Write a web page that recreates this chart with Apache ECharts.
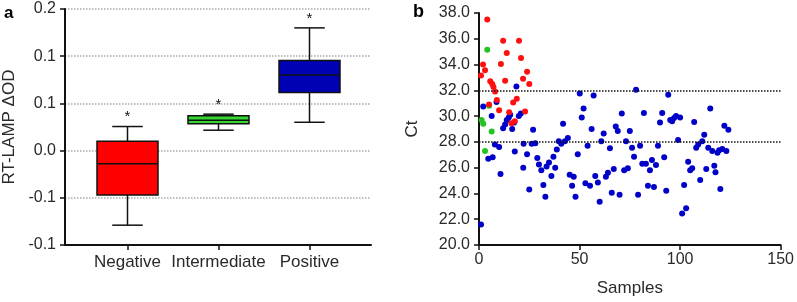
<!DOCTYPE html>
<html>
<head>
<meta charset="utf-8">
<script src="https://cdn.jsdelivr.net/npm/echarts@6/dist/echarts.min.js"></script>
<style>
  html, body { margin: 0; padding: 0; background: #fff; }
  #chart { width: 797px; height: 302px; }
</style>
</head>
<body>
<div id="chart"></div>
<script>
// panel a: box plot of RT-LAMP dOD per group
const categories = ['Negative', 'Intermediate', 'Positive'];
const boxLow = [-0.079, 0.0216, 0.030];
const boxQ1 = [-0.047, 0.0284, 0.0616];
const boxMedian = [-0.014, 0.0322, 0.080];
const boxQ3 = [0.010, 0.0369, 0.0955];
const boxHigh = [0.0255, 0.0386, 0.130];
const starValues = [0.0397, 0.0524, 0.1443];
// tick labels as printed in the figure (values -0.10 .. 0.15 step 0.05)
const yTickLabelsA = ['-0.1', '-0.1', '0.0', '0.1', '0.1', '0.2'];

// panel b: Ct against sample number
const redPoints = [
  [1, 33.15], [2, 34.0], [3, 33.55], [4.1, 37.5], [5, 30.9], [5.6, 32.7], [6.6, 32.5], [7.2, 32.25],
  [8, 31.9], [8.9, 31.25], [10, 30.45], [10.9, 34.05], [12, 35.85], [13, 32.75], [13.8, 34.9],
  [15, 30.3], [16.1, 29.45], [17, 31.05], [17.8, 29.6], [18.8, 31.35], [19.9, 35.85], [20.9, 34.5],
  [21.9, 32.9], [22.9, 30.35], [23.9, 33.45], [25, 32.5]
];
const greenPoints = [
  [1.3, 29.7], [2.1, 29.4], [3, 27.3], [4.1, 35.15], [5, 30.8], [6.3, 28.8]
];
const bluePoints = [
  [1, 21.6], [2.1, 30.75], [4.6, 26.7], [6.3, 30.0], [6.8, 26.8], [7.9, 27.8], [8.7, 31.1], [10, 27.6],
  [10.7, 25.5], [12, 29.05], [13, 29.35], [13.8, 29.7], [14.8, 29.9], [15.5, 30.1], [16.5, 29.0],
  [17.5, 29.5], [17.8, 27.25], [18.6, 32.3], [19.8, 30.0], [20.8, 30.2], [22, 26.0], [22.2, 27.85],
  [23.9, 27.05], [25, 24.3], [26.2, 27.85], [26.9, 28.95], [28, 27.9], [29, 26.75], [29.8, 26.25],
  [31, 25.8], [32, 24.65], [33, 23.75], [33.6, 26.1], [34.8, 26.4], [36, 25.35], [37, 26.85],
  [37.9, 26.0], [38.7, 27.4], [39.7, 28.05], [40.9, 27.85], [41.8, 29.4], [42.7, 28.05], [44.2, 28.3],
  [45.1, 25.45], [46.3, 24.6], [47.1, 25.3], [48, 23.75], [49.1, 27.05], [50.1, 31.75], [51.1, 29.9],
  [52, 30.6], [52.9, 24.8], [54, 27.7], [55.2, 24.6], [56, 29.0], [57, 31.6], [57.8, 25.35],
  [59.1, 24.85], [60, 23.35], [60.8, 28.05], [62, 28.65], [63.1, 25.3], [64.1, 25.6], [65.1, 27.5],
  [66, 24.05], [67, 25.9], [68, 29.2], [69, 28.85], [69.9, 23.9], [71, 30.2], [72.2, 25.8],
  [73.1, 28.05], [74, 25.95], [75, 28.85], [76.1, 27.55], [77.1, 26.85], [78.1, 32.05], [79.1, 23.9],
  [80.1, 27.7], [81.2, 26.3], [82, 30.25], [83, 26.3], [84, 24.6], [85, 25.8], [86, 26.6], [87, 24.5],
  [88, 26.2], [89, 27.7], [90, 29.5], [91.1, 30.25], [92.1, 26.8], [93.1, 24.2], [94.1, 31.65],
  [95.1, 29.7], [96, 29.6], [97, 29.85], [98, 30.0], [99, 28.15], [100, 29.9], [101, 22.45],
  [102, 24.65], [103, 22.85], [104, 26.45], [105, 25.8], [106, 25.95], [107, 29.55], [108, 27.55],
  [109, 27.8], [110, 25.05], [111, 28.05], [112, 28.55], [113, 25.9], [114, 27.55], [115, 30.6],
  [116, 27.3], [117, 26.15], [117.6, 25.65], [118.6, 27.15], [119.4, 27.35], [120, 24.35],
  [121, 27.45], [122, 29.25], [123, 27.3], [124, 28.95]
];
const cutoffLines = [32.0, 28.0];

const boxColors = ['#ff0000', '#33d633', '#0000b4'];
const ink = '#111';
const textColor = '#2a2a2a';
const font = 'Liberation Sans, Arial, sans-serif';

const boxData = categories.map((c, i) => [i, boxLow[i], boxQ1[i], boxMedian[i], boxQ3[i], boxHigh[i], starValues[i]]);

const renderBox = (params, api) => {
  const i = api.value(0);
  const lo = api.coord([i, api.value(1)]);
  const q1 = api.coord([i, api.value(2)]);
  const md = api.coord([i, api.value(3)]);
  const q3 = api.coord([i, api.value(4)]);
  const hi = api.coord([i, api.value(5)]);
  const st = api.coord([i, api.value(6)]);
  const bw = 61;
  const cx = lo[0];
  const line = { stroke: ink, lineWidth: 1.5 };
  return {
    type: 'group',
    children: [
      { type: 'line', shape: { x1: cx, y1: hi[1], x2: cx, y2: lo[1] }, style: line },
      { type: 'line', shape: { x1: cx - bw / 4, y1: hi[1], x2: cx + bw / 4, y2: hi[1] }, style: line },
      { type: 'line', shape: { x1: cx - bw / 4, y1: lo[1], x2: cx + bw / 4, y2: lo[1] }, style: line },
      {
        type: 'rect',
        shape: { x: cx - bw / 2, y: q3[1], width: bw, height: q1[1] - q3[1] },
        style: { fill: boxColors[params.dataIndex], stroke: ink, lineWidth: 1.5 }
      },
      { type: 'line', shape: { x1: cx - bw / 2, y1: md[1], x2: cx + bw / 2, y2: md[1] }, style: line },
      {
        type: 'text', x: cx, y: st[1] + 4,
        style: { text: '*', fontSize: 15, fontFamily: font, fill: ink, align: 'center', verticalAlign: 'middle' }
      }
    ]
  };
};

const axisLine = { show: true, onZero: false, lineStyle: { color: ink, width: 2 } };
const axisTick = { show: true, length: 5, lineStyle: { color: ink, width: 1.5 } };
const tickLabel = { color: textColor, fontSize: 16, fontFamily: font };

const chart = echarts.init(document.getElementById('chart'));
chart.setOption({
  backgroundColor: '#fff',
  animation: false,
  graphic: [
    { type: 'text', left: 4, top: 5, style: { text: 'a', fontSize: 17, fontWeight: 'bold', fontFamily: font, fill: '#000' } },
    { type: 'text', left: 413, top: 3, style: { text: 'b', fontSize: 18, fontWeight: 'bold', fontFamily: font, fill: '#000' } }
  ],
  grid: [
    { left: 64, top: 9, width: 307, height: 236 },
    { left: 82, top: 9, width: 273, height: 236 },
    { left: 479, top: 13, width: 303, height: 232 }
  ],
  xAxis: [
    {
      gridIndex: 0, type: 'value', min: 0, max: 1,
      axisLine: axisLine, axisTick: { show: false }, axisLabel: { show: false }, splitLine: { show: false }
    },
    {
      gridIndex: 1, type: 'category', data: categories,
      axisLine: { show: false, onZero: false },
      axisTick: { show: true, alignWithLabel: true, length: 5, lineStyle: { color: ink, width: 1.5 } },
      axisLabel: { color: textColor, fontSize: 17, fontFamily: font, margin: 9, interval: 0 }
    },
    {
      gridIndex: 2, type: 'value', min: 0, max: 150, interval: 50,
      name: 'Samples', nameLocation: 'middle', nameGap: 35,
      nameTextStyle: { color: textColor, fontSize: 17, fontFamily: font },
      axisLine: axisLine, axisTick: axisTick, axisLabel: Object.assign({ margin: 7 }, tickLabel),
      splitLine: { show: false }
    }
  ],
  yAxis: [
    {
      gridIndex: 0, type: 'value', min: -0.1, max: 0.15, interval: 0.05,
      name: 'RT-LAMP ΔOD', nameLocation: 'middle', nameGap: 47,
      nameTextStyle: { color: textColor, fontSize: 17, fontFamily: font },
      axisLine: axisLine, axisTick: axisTick,
      axisLabel: Object.assign({
        margin: 9,
        formatter: v => yTickLabelsA[Math.round((v + 0.1) / 0.05)]
      }, tickLabel),
      splitLine: { show: true, lineStyle: { color: '#aaa', type: 'dotted', width: 1.5 } }
    },
    { gridIndex: 1, type: 'value', min: -0.1, max: 0.15, show: false },
    {
      gridIndex: 2, type: 'value', min: 20, max: 38, interval: 2,
      name: 'Ct', nameLocation: 'middle', nameGap: 58,
      nameTextStyle: { color: textColor, fontSize: 17, fontFamily: font },
      axisLine: axisLine, axisTick: axisTick,
      axisLabel: Object.assign({ margin: 9, formatter: v => v.toFixed(1) }, tickLabel),
      splitLine: { show: false }
    }
  ],
  series: [
    {
      type: 'custom', xAxisIndex: 1, yAxisIndex: 1,
      renderItem: renderBox,
      encode: { x: 0, y: [1, 2, 3, 4, 5, 6] },
      data: boxData
    },
    {
      type: 'scatter', xAxisIndex: 2, yAxisIndex: 2,
      symbolSize: 6, itemStyle: { color: '#0000c8', opacity: 1 },
      data: bluePoints,
      markLine: {
        silent: true, symbol: 'none', label: { show: false },
        lineStyle: { color: ink, type: 'dotted', width: 1.5 },
        data: cutoffLines.map(v => ({ yAxis: v }))
      }
    },
    {
      type: 'scatter', xAxisIndex: 2, yAxisIndex: 2,
      symbolSize: 6, itemStyle: { color: '#22c322', opacity: 1 },
      data: greenPoints
    },
    {
      type: 'scatter', xAxisIndex: 2, yAxisIndex: 2,
      symbolSize: 6, itemStyle: { color: '#ff1010', opacity: 1 },
      data: redPoints
    }
  ]
});
</script>
</body>
</html>
